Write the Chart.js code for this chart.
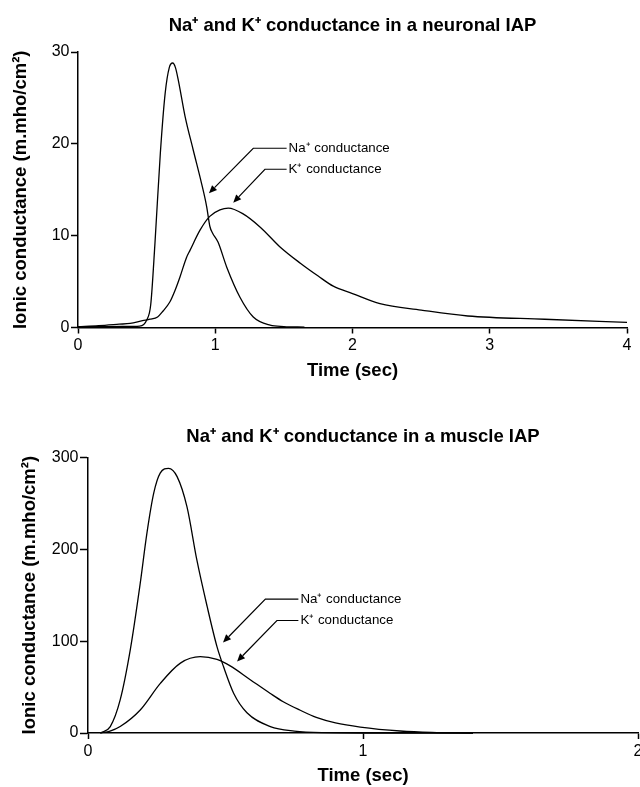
<!DOCTYPE html>
<html>
<head>
<meta charset="utf-8">
<script src="https://cdn.jsdelivr.net/npm/chart.js@4.4.1/dist/chart.umd.min.js"></script>
<style>
  html, body { margin: 0; padding: 0; background: #fff; }
  #wrap { position: relative; width: 640px; height: 787px; overflow: hidden; background: #fff; }
  canvas { position: absolute; left: 0; }
</style>
</head>
<body>
<div id="wrap">
  <canvas id="neuron" width="660" height="392" style="top:0px"></canvas>
  <canvas id="muscle" width="660" height="395" style="top:392px"></canvas>
</div>
<script>
// ---------- Data: neuronal IAP ----------
const neuronNaTime = [0, 0.2, 0.4, 0.45, 0.5, 0.53, 0.56, 0.6, 0.635, 0.665, 0.69, 0.71, 0.73, 0.78, 0.84, 0.9, 0.937, 0.961, 0.98, 1.02, 1.083, 1.18, 1.277, 1.4, 1.5, 1.65];
const neuronNaCond = [0.1, 0.1, 0.12, 0.15, 0.8, 2.5, 9, 19, 25.5, 28.3, 28.8, 28.3, 27, 23, 19.3, 15.7, 13.2, 11, 10.3, 9.3, 6.6, 3.3, 1.15, 0.25, 0.1, 0.05];
const neuronKTime = [0, 0.15, 0.3, 0.38, 0.47, 0.524, 0.58, 0.62, 0.67, 0.706, 0.743, 0.79, 0.816, 0.889, 0.96, 1.034, 1.095, 1.2, 1.33, 1.47, 1.62, 1.75, 1.86, 2.0, 2.2, 2.5, 2.84, 3.4, 4.0];
const neuronKCond = [0.1, 0.2, 0.36, 0.45, 0.75, 0.9, 1.15, 1.8, 2.8, 4.0, 5.5, 7.6, 8.4, 10.6, 12.1, 12.8, 13.0, 12.4, 10.9, 8.8, 7.0, 5.6, 4.5, 3.7, 2.6, 1.9, 1.25, 0.9, 0.55];
const neuronXTicks = [0, 4, 1];   // min, max, step
const neuronYTicks = [0, 30, 10];

// ---------- Data: muscle IAP ----------
const muscleNaTime = [0.045, 0.081, 0.117, 0.154, 0.19, 0.214, 0.239, 0.263, 0.293, 0.324, 0.36, 0.396, 0.433, 0.469, 0.493, 0.53, 0.578, 0.663, 0.75, 0.85, 1.0, 1.4];
const muscleNaCond = [0, 7, 36, 91, 163, 217, 261, 283, 288, 279, 246, 188, 138, 94, 72, 43, 22, 7, 2, 0.3, 0, 0];
const muscleKTime = [0.045, 0.08, 0.117, 0.19, 0.263, 0.336, 0.408, 0.469, 0.517, 0.59, 0.663, 0.71, 0.77, 0.83, 0.9, 0.99, 1.135, 1.25, 1.4];
const muscleKCond = [0, 2, 7, 25, 54, 76, 83, 80, 73, 58, 43, 34, 25, 17, 11, 6.5, 2.2, 0.6, 0];
const muscleXTicks = [0, 2, 1];
const muscleYTicks = [0, 300, 100];

// ---------- Text ----------
const neuronTitle = 'Na\u207A and K\u207A conductance in a neuronal IAP';
const muscleTitle = 'Na\u207A and K\u207A conductance in a muscle IAP';
const xTitle = 'Time (sec)';
const yTitle = 'Ionic conductance (m.mho/cm\u00B2)';
const naLabel = 'Na\u207A conductance';
const kLabel = 'K\u207A conductance';

// ---------- Annotation arrows (data units) ----------
const neuronNaArrow = { tip: [0.954, 14.61], elbow: [1.277, 19.52], end: 1.52 };
const neuronKArrow  = { tip: [1.131, 13.59], elbow: [1.362, 17.23], end: 1.52 };
const muscleNaArrow = { tip: [0.491, 98.5], elbow: [0.645, 145.7], end: 0.765 };
const muscleKArrow  = { tip: [0.542, 77.8], elbow: [0.687, 122.4], end: 0.765 };

const FONT = "'Liberation Sans', Arial, Helvetica, sans-serif";

function pts(t, v) { return t.map((x, i) => ({ x: x, y: v[i] })); }

function arrowPlugin(items) {
  return {
    id: 'arrows',
    afterDatasetsDraw(chart) {
      const { ctx } = chart;
      const xs = chart.scales.x, ys = chart.scales.y;
      ctx.save();
      ctx.strokeStyle = '#000';
      ctx.fillStyle = '#000';
      ctx.lineWidth = 1.2;
      ctx.font = '13.3px ' + FONT;
      ctx.textBaseline = 'middle';
      ctx.textAlign = 'left';
      for (const a of items) {
        const tx = xs.getPixelForValue(a.tip[0]), ty = ys.getPixelForValue(a.tip[1]);
        const ex = xs.getPixelForValue(a.elbow[0]), ey = ys.getPixelForValue(a.elbow[1]);
        const nx = xs.getPixelForValue(a.end);
        const ang = Math.atan2(ty - ey, tx - ex);
        const L = 8, W = 3.5;
        const bx = tx - L * Math.cos(ang), by = ty - L * Math.sin(ang);
        ctx.beginPath();
        ctx.moveTo(nx, ey);
        ctx.lineTo(ex, ey);
        ctx.lineTo(bx, by);
        ctx.stroke();
        ctx.beginPath();
        ctx.moveTo(tx, ty);
        ctx.lineTo(bx + W * Math.sin(ang), by - W * Math.cos(ang));
        ctx.lineTo(bx - W * Math.sin(ang), by + W * Math.cos(ang));
        ctx.closePath();
        ctx.fill();
        ctx.fillText(a.text, nx + 2, ey);
      }
      ctx.restore();
    }
  };
}

function lineDs(data) {
  return {
    data: data,
    borderColor: '#000',
    borderWidth: 1.3,
    pointRadius: 0,
    fill: false,
    cubicInterpolationMode: 'monotone',
    clip: 4
  };
}

function makeChart(id, o) {
  return new Chart(document.getElementById(id), {
    type: 'line',
    data: { datasets: [lineDs(pts(o.naT, o.naV)), lineDs(pts(o.kT, o.kV))] },
    options: {
      responsive: false,
      animation: false,
      devicePixelRatio: 1,
      layout: { padding: { left: 0, right: o.padRight, top: 0, bottom: 0 } },
      plugins: {
        legend: { display: false },
        tooltip: { enabled: false },
        title: {
          display: true, text: o.title, fullSize: false, color: '#000',
          font: { family: FONT, size: 18.5, weight: 'bold' },
          padding: { top: o.titleTop, bottom: o.titleBottom }
        }
      },
      scales: {
        x: {
          type: 'linear', min: o.xt[0], max: o.xt[1],
          ticks: { stepSize: o.xt[2], color: '#000', font: { family: FONT, size: 16 }, padding: o.xTickPad, maxRotation: 0 },
          grid: { drawOnChartArea: false, drawTicks: true, tickLength: 6, tickColor: '#000', tickWidth: 1.5 },
          border: { color: '#000', width: 1.5 },
          title: { display: true, text: xTitle, color: '#000', font: { family: FONT, size: 18.5, weight: 'bold' }, padding: { top: 0, bottom: o.xTitlePad } },
          afterFit: function (s) { s.height = o.xHeight; }
        },
        y: {
          type: 'linear', min: o.yt[0], max: o.yt[1],
          ticks: { stepSize: o.yt[2], color: '#000', font: { family: FONT, size: 16 }, padding: 1.5 },
          grid: { drawOnChartArea: false, drawTicks: true, tickLength: o.yTickLen, tickColor: '#000', tickWidth: 1.5 },
          border: { color: '#000', width: 1.5 },
          title: { display: true, text: yTitle, color: '#000', font: { family: FONT, size: 18.5, weight: 'bold' }, padding: { top: o.yTitlePad, bottom: 0 } },
          afterFit: function (s) { s.width = o.yWidth; }
        }
      }
    },
    plugins: [arrowPlugin(o.arrows)]
  });
}

makeChart('neuron', {
  naT: neuronNaTime, naV: neuronNaCond, kT: neuronKTime, kV: neuronKCond,
  xt: neuronXTicks, yt: neuronYTicks, title: neuronTitle,
  padRight: 33, titleTop: 14.4, titleBottom: 15.4,
  xHeight: 64.5, xTitlePad: 9.9, xTickPad: 2,
  yWidth: 78, yTitlePad: 10, yTickLen: 7,
  arrows: [
    Object.assign({ text: naLabel }, neuronNaArrow),
    Object.assign({ text: kLabel }, neuronKArrow)
  ]
});

makeChart('muscle', {
  naT: muscleNaTime, naV: muscleNaCond, kT: muscleKTime, kV: muscleKCond,
  xt: muscleXTicks, yt: muscleYTicks, title: muscleTitle,
  padRight: 22, titleTop: 33.4, titleBottom: 9.7,
  xHeight: 54, xTitlePad: 0, xTickPad: 3,
  yWidth: 88, yTitlePad: 18.4, yTickLen: 8,
  arrows: [
    Object.assign({ text: naLabel }, muscleNaArrow),
    Object.assign({ text: kLabel }, muscleKArrow)
  ]
});
</script>
</body>
</html>
